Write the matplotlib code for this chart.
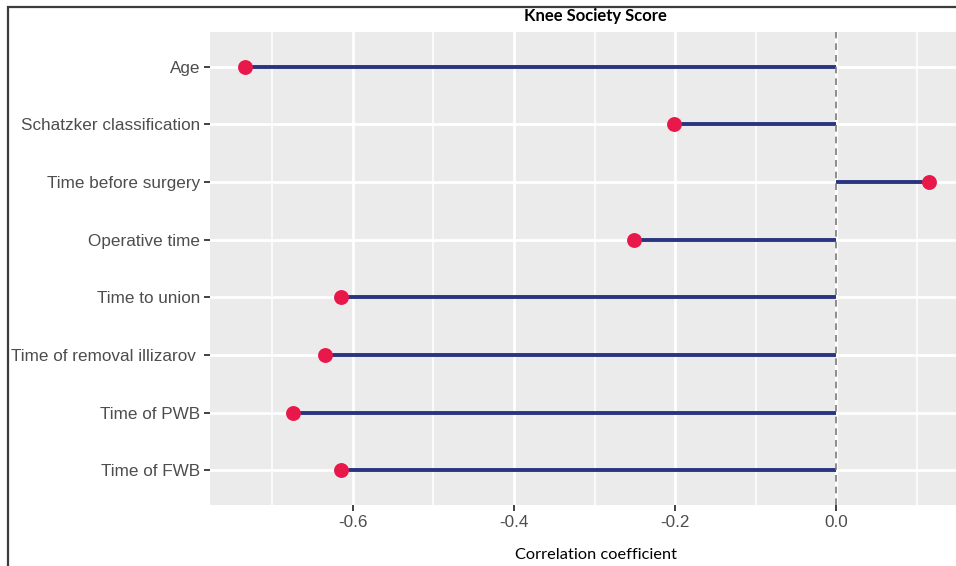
#!/usr/bin/env python3
"""Lollipop chart: correlation of clinical factors with the Knee Society Score."""

import matplotlib.pyplot as plt
import numpy as np
from matplotlib.patches import Rectangle

FACTORS = [
    "Age",
    "Schatzker classification",
    "Time before surgery",
    "Operative time",
    "Time to union",
    "Time of removal illizarov ",
    "Time of PWB",
    "Time of FWB",
]
CORRELATIONS = [-0.734, -0.201, 0.115, -0.251, -0.615, -0.635, -0.675, -0.615]
X_TICKS = [-0.6, -0.4, -0.2, 0.0]
X_MINOR = [-0.7, -0.5, -0.3, -0.1, 0.1]

LINE_COLOR = "#2b3480"
POINT_COLOR = "#e8194a"
PANEL_BG = "#ebebeb"
TEXT_GREY = "#4d4d4d"

W, H = 956, 566


def main() -> None:
    fig = plt.figure(figsize=(W / 100, H / 100), dpi=100)
    ax = fig.add_axes([210 / W, 1 - 505 / H, 1 - 210 / W, (505 - 32) / H])

    n = len(FACTORS)
    ypos = np.arange(n)[::-1] + 1  # first factor at the top

    ax.set_facecolor(PANEL_BG)
    for s in ax.spines.values():
        s.set_visible(False)

    # grid, ggplot style
    for x in X_MINOR:
        ax.axvline(x, color="white", lw=1.1, zorder=0)
    for x in X_TICKS:
        ax.axvline(x, color="white", lw=2.0, zorder=0)
    for y in ypos:
        ax.axhline(y, color="white", lw=2.0, zorder=0)

    ax.hlines(ypos, 0, CORRELATIONS, color=LINE_COLOR, lw=2.8, zorder=2)
    ax.scatter(CORRELATIONS, ypos, s=115, color=POINT_COLOR, zorder=3, linewidths=0)
    ax.axvline(0, color="#7a7a7a", lw=1.2, ls=(0, (4, 3)), zorder=4)

    ax.set_xlim(-0.7776, 0.149)
    ax.set_ylim(0.4, n + 0.6)
    ax.set_xticks(X_TICKS)
    ax.set_xticklabels([f"{t:.1f}" for t in X_TICKS])
    ax.set_yticks(ypos)
    ax.set_yticklabels(FACTORS)
    ax.tick_params(axis="both", length=4, width=1.3, color="#333333",
                   labelcolor=TEXT_GREY, labelsize=12.3, pad=3)
    for lbl in ax.get_xticklabels() + ax.get_yticklabels():
        lbl.set_family(["Liberation Sans", "DejaVu Sans"])

    fig.text(595 / W, 1 - 16 / H, "Knee Society Score", ha="center", va="center",
             fontsize=12, fontweight="bold", family=["Lato", "DejaVu Sans"])
    fig.text(596 / W, 1 - 555 / H, "Correlation coefficient", ha="center",
             va="center", fontsize=11.8, family=["Lato", "DejaVu Sans"])

    # outer frame of the original figure (cut at the right and bottom)
    fig.patches.append(Rectangle((8 / W, -0.05), 1.1, 1 - 7 / H + 0.05,
                                 transform=fig.transFigure, fill=False,
                                 edgecolor="#3c3c3c", lw=1.6))

    fig.savefig("out.png", dpi=100)
    plt.close(fig)


if __name__ == "__main__":
    main()
